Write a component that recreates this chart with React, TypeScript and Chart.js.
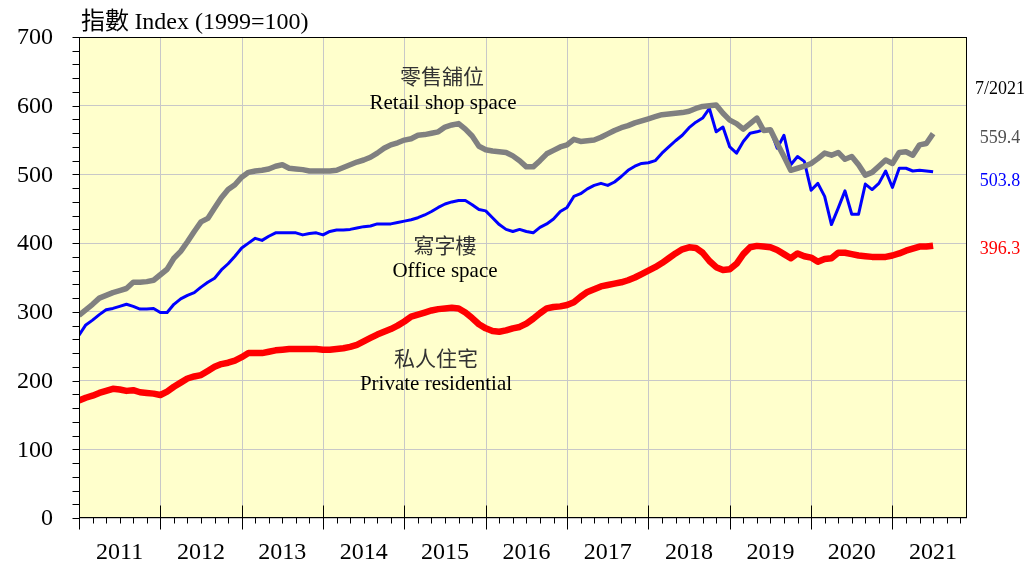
import React, { useEffect, useRef } from "react";
import { Chart, registerables } from "chart.js";

Chart.register(...registerables);

// Years on the x axis (monthly data from Jan 2011 to Jul 2021)
const years = ["2011", "2012", "2013", "2014", "2015", "2016", "2017", "2018", "2019", "2020", "2021"];

// 零售舖位 Retail shop space
const retailShop = [
  295, 303, 311, 320, 324, 328, 331, 334, 343, 343, 344, 346,
  354, 362, 378, 388, 402, 417, 431, 436, 451, 466, 478, 485,
  496, 503, 505, 506, 508, 512, 514, 509, 508, 507, 505, 505,
  505, 505, 506, 510, 514, 518, 521, 525, 531, 538, 543, 546,
  550, 552, 557, 558, 560, 562, 569, 572, 574, 566, 556, 541,
  536, 534, 533, 532, 527, 520, 511, 511, 520, 530, 535, 540,
  543, 551, 548, 549, 550, 554, 559, 564, 568, 571, 575, 578,
  581, 584, 587, 588, 589, 590, 592, 596, 599, 600, 601, 589,
  579, 574, 566, 574, 582, 564, 565, 545, 526, 506, 509, 512,
  516, 523, 531, 528, 532, 522, 526, 514, 499, 503, 512, 521,
  516, 532, 533, 528, 543, 545, 559.4,
];

// 寫字樓 Office space
const officeSpace = [
  266, 281, 288, 296, 303, 305, 308, 311, 308, 304, 304, 305,
  299, 299, 311, 319, 324, 328, 336, 343, 349, 361, 370, 381,
  393, 400, 407, 404, 410, 415, 415, 415, 415, 412, 414, 415,
  412, 417, 419, 419, 420, 422, 424, 425, 428, 428, 428, 430,
  432, 434, 437, 441, 446, 452, 457, 460, 462, 462, 456, 449,
  447, 437, 427, 420, 417, 420, 417, 415, 423, 428, 435, 446,
  452, 468, 472, 479, 484, 487, 484, 489, 497, 506, 512, 516,
  517, 520, 531, 540, 549, 557, 568, 576, 582, 596, 562, 569,
  540, 531, 548, 560, 562, 565, 565, 538, 557, 514, 526, 519,
  477, 487, 468, 427, 451, 476, 442, 442, 486, 478, 487, 505,
  481, 509, 509, 505, 506, 505, 503.8,
];

// 私人住宅 Private residential
const privateResidential = [
  171, 175, 178, 182, 185, 188, 187, 185, 186, 183, 182, 181,
  179, 184, 191, 197, 203, 206, 208, 214, 220, 224, 226, 229,
  234, 240, 240, 240, 242, 244, 245, 246, 246, 246, 246, 246,
  245, 245, 246, 247, 249, 252, 257, 262, 267, 271, 275, 280,
  286, 293, 296, 299, 302, 304, 305, 306, 305, 299, 291, 282,
  276, 272, 271, 273, 276, 278, 283, 290, 298, 305, 307, 308,
  310, 314, 322, 329, 333, 337, 339, 341, 343, 346, 350, 355,
  360, 365, 371, 378, 385, 391, 394, 393, 386, 374, 365, 361,
  362, 370, 384, 394, 396, 395, 394, 390, 384, 378, 385, 381,
  379, 373, 377, 378, 386, 386, 384, 382, 381, 380, 380, 380,
  382, 385, 389, 392, 395, 395, 396.3,
];

const yTickValues = [0, 100, 200, 300, 400, 500, 600, 700];
const latestLabel = "7/2021";
const latestValues = ["559.4", "503.8", "396.3"];

const FONT = "'Liberation Serif', 'Times New Roman', 'Noto Sans CJK TC', serif";
const CJK = "'Noto Sans CJK TC', 'Liberation Serif', serif";

const toPoints = (arr: number[]) => arr.map((v, i) => ({ x: i, y: v }));

const decorPlugin = {
  id: "decor",
  beforeDraw(chart: any) {
    const { ctx, chartArea: a } = chart;
    ctx.save();
    ctx.fillStyle = "#FFFFCC";
    ctx.fillRect(a.left, a.top, a.right - a.left, a.bottom - a.top);
    ctx.restore();
  },
  beforeDatasetsDraw(chart: any) {
    const { ctx, chartArea: a } = chart;
    const xs = chart.scales.x;
    ctx.save();
    ctx.strokeStyle = "#c8c8c8";
    ctx.lineWidth = 1;
    for (let m = 12; m <= 120; m += 12) {
      const px = Math.round(xs.getPixelForValue(m)) + 0.5;
      ctx.beginPath();
      ctx.moveTo(px, a.top);
      ctx.lineTo(px, a.bottom);
      ctx.stroke();
    }
    ctx.restore();
  },
  afterDraw(chart: any) {
    const { ctx, chartArea: a } = chart;
    const xs = chart.scales.x;
    const ys = chart.scales.y;
    ctx.save();
    ctx.strokeStyle = "#000";
    ctx.lineWidth = 1;
    const L = Math.round(a.left) + 0.5;
    const R = Math.round(a.right) - 0.5;
    const T = Math.round(a.top) + 0.5;
    const B = Math.round(a.bottom) - 0.5;
    ctx.strokeRect(L, T, R - L, B - T);

    ctx.beginPath();
    // minor x ticks, every 2 months
    for (let m = 0; m <= 130; m += 2) {
      if (m % 12 === 0) continue;
      const px = Math.round(xs.getPixelForValue(m)) + 0.5;
      ctx.moveTo(px, B);
      ctx.lineTo(px, B + 6);
    }
    // year ticks
    for (let m = 0; m <= 120; m += 12) {
      const px = Math.round(xs.getPixelForValue(m)) + 0.5;
      ctx.moveTo(px, B - 12);
      ctx.lineTo(px, B + 12);
    }
    // y ticks every 20
    for (let v = 0; v <= 700; v += 20) {
      const py = Math.round(ys.getPixelForValue(v)) + 0.5;
      ctx.moveTo(L - 7, py);
      ctx.lineTo(L, py);
    }
    ctx.stroke();

    // title
    ctx.fillStyle = "#000";
    ctx.textBaseline = "alphabetic";
    ctx.textAlign = "left";
    ctx.font = `24px ${CJK}`;
    ctx.fillText("指數", 81, 29);
    const w = ctx.measureText("指數 ").width;
    ctx.font = `24px ${FONT}`;
    ctx.fillText("Index (1999=100)", 81 + w, 29);

    // series annotations
    ctx.textAlign = "center";
    ctx.textBaseline = "middle";
    const zh = (t: string, x: number, y: number) => {
      ctx.font = `21px ${CJK}`;
      ctx.fillStyle = "#333";
      ctx.fillText(t, x, y);
    };
    const en = (t: string, x: number, y: number) => {
      ctx.font = `21px ${FONT}`;
      ctx.fillStyle = "#000";
      ctx.fillText(t, x, y);
    };
    zh("零售舖位", 442, 76);
    en("Retail shop space", 443, 103);
    zh("寫字樓", 445, 245);
    en("Office space", 445, 271);
    zh("私人住宅", 436, 358);
    en("Private residential", 436, 384);

    // latest values
    ctx.font = `18px ${FONT}`;
    ctx.fillStyle = "#000";
    ctx.fillText(latestLabel, 1000, 89);
    ctx.fillStyle = "#505050";
    ctx.fillText(latestValues[0], 1000, 138);
    ctx.fillStyle = "#0000FF";
    ctx.fillText(latestValues[1], 1000, 181);
    ctx.fillStyle = "#FF0000";
    ctx.fillText(latestValues[2], 1000, 249);
    ctx.restore();
  },
};

export default function App() {
  const ref = useRef<HTMLCanvasElement>(null);
  useEffect(() => {
    const chart = new Chart(ref.current as HTMLCanvasElement, {
      type: "line",
      data: {
        datasets: [
          {
            label: "Retail shop space",
            data: toPoints(retailShop),
            borderColor: "#808080",
            borderWidth: 5.5,
            pointRadius: 0,
            tension: 0,
            borderJoinStyle: "round",
          },
          {
            label: "Office space",
            data: toPoints(officeSpace),
            borderColor: "#0000FF",
            borderWidth: 3,
            pointRadius: 0,
            tension: 0,
            borderJoinStyle: "round",
          },
          {
            label: "Private residential",
            data: toPoints(privateResidential),
            borderColor: "#FF0000",
            borderWidth: 6.5,
            pointRadius: 0,
            tension: 0,
            borderJoinStyle: "round",
          },
        ],
      },
      options: {
        responsive: false,
        animation: false,
        devicePixelRatio: 1,
        layout: { padding: { top: 37, right: 62, left: 0, bottom: 0 } },
        plugins: { legend: { display: false }, tooltip: { enabled: false } },
        scales: {
          x: {
            type: "linear",
            min: 0,
            max: 131,
            grid: { display: false, drawTicks: false },
            border: { display: false },
            afterBuildTicks: (scale: any) => {
              scale.ticks = years.map((_, i) => ({ value: 6 + 12 * i }));
            },
            afterFit: (scale: any) => {
              scale.height = 46;
              scale.paddingLeft = 0;
              scale.paddingRight = 0;
            },
            ticks: {
              autoSkip: false,
              maxRotation: 0,
              padding: 20,
              color: "#000",
              font: { family: FONT, size: 24 },
              callback: (v: any) => years[Math.round((Number(v) - 6) / 12)],
            },
          },
          y: {
            min: 0,
            max: 700,
            grid: { color: "#c8c8c8", drawTicks: false, lineWidth: 1 },
            border: { display: false },
            afterBuildTicks: (scale: any) => {
              scale.ticks = yTickValues.map((v) => ({ value: v }));
            },
            afterFit: (scale: any) => {
              scale.width = 79;
              scale.paddingTop = 0;
              scale.paddingBottom = 0;
            },
            ticks: {
              padding: 26,
              labelOffset: 1,
              color: "#000",
              font: { family: FONT, size: 24 },
              callback: (v: any) => String(v),
            },
          },
        },
      },
      plugins: [decorPlugin],
    } as any);
    return () => chart.destroy();
  }, []);
  return (
    <div style={{ position: "absolute", left: 0, top: 0, width: 1029, height: 564, background: "#fff" }}>
      <canvas ref={ref} width={1029} height={564} style={{ display: "block" }} />
    </div>
  );
}
